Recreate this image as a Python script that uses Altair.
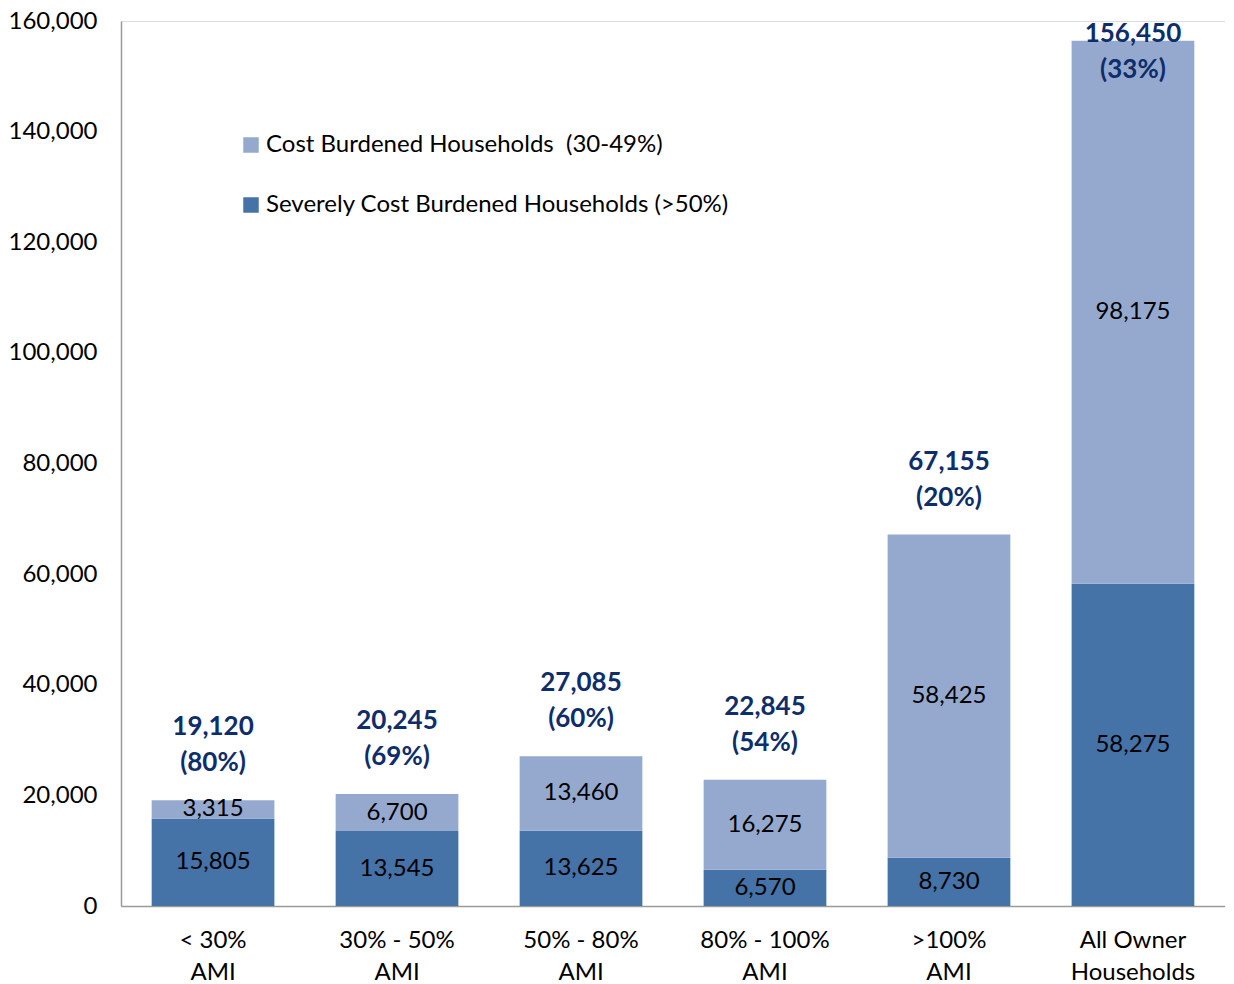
import altair as alt
import pandas as pd

categories = ["< 30%|AMI", "30% - 50%|AMI", "50% - 80%|AMI", "80% - 100%|AMI", ">100%|AMI", "All Owner|Households"]
severe = [15805, 13545, 13625, 6570, 8730, 58275]
cost = [3315, 6700, 13460, 16275, 58425, 98175]
pct = ["(80%)", "(69%)", "(60%)", "(54%)", "(20%)", "(33%)"]
series_names = ["Cost Burdened Households\u00a0 (30-49%)", "Severely Cost Burdened Households (>50%)"]
colors = ["#95A9CF", "#4572A7"]
y_ticks = [0, 20000, 40000, 60000, 80000, 100000, 120000, 140000, 160000]

FONT = "Lato"
FS = 24

rows = []
for c, s, k in zip(categories, severe, cost):
    rows.append({"cat": c, "series": series_names[1], "value": s, "ord": 0})
    rows.append({"cat": c, "series": series_names[0], "value": k, "ord": 1})
df = pd.DataFrame(rows)

tot = pd.DataFrame({
    "cat": categories,
    "total": [s + k for s, k in zip(severe, cost)],
    "pct": pct,
})

xscale = alt.Scale(paddingInner=0.333, paddingOuter=0.1667)
yscale = alt.Scale(domain=[0, 160000], nice=False)

xaxis = alt.Axis(labelExpr="split(datum.label, '|')", labelAngle=0,
                 labelFontSize=FS, labelFont=FONT, labelColor="#000000",
                 labelLineHeight=32, labelPadding=22, ticks=False,
                 domainColor="#9a9a9a", domainWidth=1.5, labelBaseline="top")
yaxis = alt.Axis(values=y_ticks, labelExpr="format(datum.value, ',')",
                 labelFontSize=FS, labelFont=FONT, labelColor="#000000",
                 ticks=False, grid=False, labelPadding=24,
                 domainColor="#9a9a9a", domainWidth=1.5)

def X():
    return alt.X("cat:N", sort=categories, title=None, scale=xscale, axis=xaxis)

bars = alt.Chart(df).mark_bar().encode(
    x=X(),
    y=alt.Y("value:Q", stack="zero", title=None, scale=yscale, axis=yaxis),
    color=alt.Color("series:N", scale=alt.Scale(domain=series_names, range=colors),
                    legend=alt.Legend(orient="none", legendX=118, legendY=112, title=None,
                                      symbolType="square", symbolSize=240, symbolStrokeWidth=0,
                                      labelFontSize=FS, labelFont=FONT, labelColor="#000000",
                                      labelLimit=0, rowPadding=36, labelOffset=3,
                                      direction="vertical")),
    order=alt.Order("ord:Q", sort="ascending"),
)

seg_labels = alt.Chart(df).transform_stack(
    stack="value", groupby=["cat"], as_=["v0", "v1"], sort=[alt.SortField("ord", "ascending")]
).transform_calculate(
    mid="(datum.v0 + datum.v1) / 2"
).mark_text(fontSize=FS, font=FONT, color="#000000").encode(
    x=X(),
    y=alt.Y("mid:Q", title=None, scale=yscale, axis=yaxis),
    text=alt.Text("value:Q", format=","),
)

tot_labels = alt.Chart(tot).transform_calculate(
    ly="min(datum.total, 144500)",
    txt="[format(datum.total, ','), datum.pct]",
).mark_text(fontSize=26, font=FONT, fontWeight="bold", color="#0E2D6B",
            baseline="bottom", dy=-60, lineHeight=36).encode(
    x=X(),
    y=alt.Y("ly:Q", title=None, scale=yscale, axis=yaxis),
    text=alt.Text("txt:N"),
)

chart = alt.layer(bars, seg_labels, tot_labels).properties(
    width=1104, height=885,
    padding={"left": 0, "top": 1, "right": 0, "bottom": 0},
).configure_view(stroke=None).configure(background="white")

chart.save("out.html", embed_options={"renderer": "svg", "actions": False})
